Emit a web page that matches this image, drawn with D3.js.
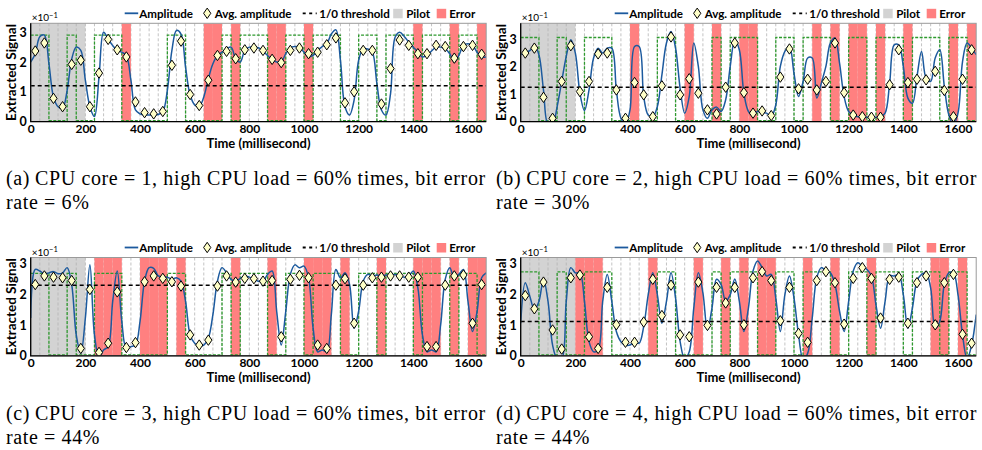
<!DOCTYPE html>
<html>
<head>
<meta charset="utf-8">
<script src="https://cdn.jsdelivr.net/npm/d3@7"></script>
<style>
  body { margin: 0; background: #fff; }
  .ax text { font-family: Lato, "Open Sans", sans-serif; font-weight: 700; font-size: 12px; fill: #000; }
</style>
</head>
<body>
<div id="chart"></div>
<script>
// one bit lasts 1/30 s, 50 bits per trace, first 6 bits are the pilot
var bitMs = 1000 / 30
var nBits = 50
var pilotBits = 6
var xTicks = [0, 200, 400, 600, 800, 1000, 1200, 1400, 1600]
var yTicks = [0, 1, 2, 3]

// transmitted bits (green square wave), same in all four runs
var bits = [1,1,0,0,1,0,0,1,1,1, 0,0,0,0,0,1,1,0,0,0, 0,1,0,1,1,1,0,0,1,1,
            0,1,1,1,0,0,1,1,0,1, 1,1,0,1,1,1,0,1,1,0]

// (a) CPU core = 1
var avgA = [2.37,2.64,0.78,0.5,1.92,2.06,0.5,1.63,2.76,2.41, 2.17,0.66,0.3,0.26,0.34,1.89,2.7,0.91,0.54,1.39,
            2.22,2.36,2.11,2.41,2.47,2.39,2.09,1.98,2.39,2.47, 2.28,2.33,2.58,2.81,0.63,1.0,2.39,2.39,0.59,1.78,
            2.74,2.56,2.28,2.28,2.56,2.52,2.13,2.52,2.56,2.26]
var ampA = [2.0,2.28,2.85,2.9,1.95,0.83,0.5,0.45,1.05,2.1, 2.5,2.39,1.39,0.5,0.17,1.5,3.0,2.78,2.55,2.39,
            2.33,2.22,1.39,0.39,0.26,0.22,0.22,0.22,0.24,0.33, 1.05,2.39,3.06,2.94,1.83,0.89,0.56,0.5,0.83,1.44,
            1.94,2.22,2.33,2.44,2.5,2.11,2.0,2.39,2.5,2.5, 2.48,2.37,2.22,2.08,2.0,2.0,2.28,2.48,2.52,2.5,
            2.33,2.17,2.22,2.39,2.52,2.61,2.94,3.08,2.06,0.5, 0.22,0.72,2.06,2.44,2.44,2.33,1.28,0.39,0.22,0.94,
            2.83,3.0,2.86,2.67,2.5,2.33,2.17,2.22,2.37,2.5, 2.5,2.44,2.28,2.0,2.22,2.56,2.61,2.56,2.33,2.17, 2.17]
var errA = [10,19,20,22,26,27,30,42,46,49]

// (b) CPU core = 2
var avgB = [2.51,2.69,0.89,0.12,1.47,2.78,1.1,1.47,2.48,2.51, 1.16,0.12,1.43,0.98,0.18,1.31,3.1,0.98,1.57,1.04,
            0.43,0.28,1.26,2.88,1.06,0.31,0.39,0.22,1.63,2.66, 1.2,1.55,1.16,1.47,2.88,1.06,0.24,0.18,0.16,0.16,
            1.35,2.63,1.43,1.55,1.53,1.84,1.14,0.18,1.55,2.63]
var ampB = [2.45,2.53,2.6,2.8,2.45,1.16,-0.1,-0.1,0.55,1.47, 2.39,3.0,2.51,1.04,0.4,1.16,2.33,2.69,2.51,2.69,
            2.69,1.16,0.12,-0.1,0.43,2.75,2.75,0.92,0.24,0.18, 0.55,1.71,2.88,3.3,2.69,1.22,0.31,0.92,2.88,2.02,
            0.43,0.12,0.43,0.53,0.37,0.8,2.02,3.0,2.63,1.04, 0.37,0.24,0.37,0.33,0.31,0.18,0.61,2.02,2.57,2.75,
            1.77,0.92,1.47,2.33,2.33,0.86,1.41,2.02,2.88,3.06, 2.14,0.92,0.37,0.24,0.18,0.16,0.16,0.16,0.16,0.18,
            0.31,1.41,2.81,2.81,2.02,0.86,0.67,1.65,2.57,1.59, 1.47,2.33,2.63,1.29,0.24,-0.1,0.31,2.2,2.88,2.69, 2.45]
var errB = [12,18,21,24,25,32,34,36,37,39,42,47,49]

// (c) CPU core = 3
var avgC = [2.32,2.6,2.56,2.54,2.45,0.24,2.16,0.11,0.41,2.08, 0.27,0.43,2.41,2.6,2.52,2.41,2.27,0.68,0.35,0.51,
            2.27,2.6,2.4,2.52,2.51,2.43,2.45,0.62,2.49,2.62, 2.54,0.35,0.24,2.3,2.51,1.06,2.3,2.54,2.56,2.6,
            2.6,2.56,2.56,0.3,0.3,2.3,2.6,2.63,1.06,2.32]
var ampC = [1.23,2.81,2.76,2.67,2.7,2.74,2.67,2.7,2.87,2.32, 0.68,0.08,1.23,2.96,0.68,-0.05,0.19,0.3,1.77,2.76,
            1.12,0.24,0.3,0.35,1.12,2.43,2.87,2.85,2.6,2.56, 2.56,2.49,2.54,2.43,1.77,0.68,0.41,0.33,0.35,0.57,
            1.34,2.43,2.87,2.7,2.49,2.43,2.52,2.6,2.56,2.49, 2.43,2.43,2.65,2.76,1.45,0.35,1.45,2.65,2.96,2.87,
            2.92,2.54,0.9,0.13,0.19,0.13,1.34,2.81,2.54,2.7, 2.32,0.9,1.45,2.43,2.65,2.6,2.63,2.6,2.63,2.63,
            2.65,2.6,2.56,2.6,2.76,2.21,0.68,0.13,0.19,0.13, 1.01,2.49,2.87,2.54,2.65,2.81,1.77,0.79,1.45,2.54, 2.7]
var errC = [7,8,9,12,13,14,16,22,26,30,31,32,34,38,42,43,44,46,48,49]

// (d) CPU core = 4
var avgD = [1.96,1.53,2.4,0.84,0.22,2.54,2.63,0.62,0.24,2.23, 1.01,0.44,0.44,1.1,2.49,1.31,2.3,0.68,0.62,2.4,
            0.99,2.23,1.72,2.23,1.01,2.54,2.74,2.45,1.14,2.23, 0.73,0.44,2.45,2.74,2.38,1.03,2.52,2.87,2.52,1.23,
            2.49,2.56,1.06,2.38,2.6,1.01,2.38,2.65,0.7,0.41]
var ampD = [1.06,2.38,1.94,1.5,1.77,2.49,1.77,0.35,-0.1,-0.1, 1.77,2.87,2.7,2.7,1.77,0.46,0.13,0.19,1.77,2.65,
            1.77,0.79,0.46,0.35,0.35,0.46,0.41,0.95,1.99,2.7, 1.99,1.06,1.77,2.7,1.88,0.46,-0.1,0.13,1.56,2.7,
            2.05,0.84,1.56,2.49,2.32,1.77,1.99,2.5,1.77,0.79, 1.56,2.76,3.09,2.87,2.6,2.65,1.88,0.79,1.99,2.6,
            1.88,0.68,-0.1,0.08,1.23,2.54,2.87,2.76,2.7,2.32, 1.45,0.79,1.77,2.76,3.03,2.92,2.81,2.6,1.66,0.9,
            1.77,2.6,2.6,2.65,1.99,0.9,1.56,2.43,2.65,2.7, 2.21,0.9,1.12,2.32,2.7,2.7,1.99,0.68,-0.1,0.35, 1.34]
var errD = [6,7,8,14,19,22,24,26,27,31,34,38,45,46,48]

var thresholds = [1.2, 1.26, 2.3, 1.12]
var highLevels = [2.9, 3.08, 2.68, 2.73]
var yMax = [3.3, 3.6, 3.2, 3.2]
var cores = ["1", "2", "3", "4"]
var errorRates = ["6%", "30%", "44%", "44%"]

// layout
var plotW = 455.5, plotH = 98.3
var panels = [
  {key: "a", left: 30.7,  top: 23.3,  avg: avgA, amp: ampA, err: errA},
  {key: "b", left: 520.7, top: 23.3,  avg: avgB, amp: ampB, err: errB},
  {key: "c", left: 30.7,  top: 257.5, avg: avgC, amp: ampC, err: errC},
  {key: "d", left: 520.7, top: 257.5, avg: avgD, amp: ampD, err: errD}
]

var sans = "Lato, 'Open Sans', sans-serif"
var serif = "'Liberation Serif', 'DejaVu Serif', serif"
var blue = "#1c5a9e", red = "#ff8080", gray = "#d3d3d3", green = "#2e9a2e", diamondFill = "#ffffc8"
var diamond = "M0,-5.2L3.6,0L0,5.2L-3.6,0Z"

var svg = d3.select("#chart").append("svg")
    .attr("width", 982)
    .attr("height", 450)

panels.forEach(function(p, pi) {
  var g = svg.append("g").attr("transform", "translate(" + p.left + "," + p.top + ")")

  var x = d3.scaleLinear().domain([0, nBits * bitMs]).range([0, plotW])
  var y = d3.scaleLinear().domain([0, yMax[pi]]).range([plotH, 0])

  g.append("clipPath").attr("id", "clip-" + p.key)
    .append("rect").attr("width", plotW).attr("height", plotH)
  var body = g.append("g").attr("clip-path", "url(#clip-" + p.key + ")")

  // pilot band
  body.append("rect")
    .attr("x", x(0)).attr("y", 0)
    .attr("width", x(pilotBits * bitMs) - x(0)).attr("height", plotH)
    .attr("fill", gray)

  // bit boundaries
  body.selectAll(".grid")
    .data(d3.range(1, nBits))
    .enter().append("line")
      .attr("x1", function(d) { return x(d * bitMs) })
      .attr("x2", function(d) { return x(d * bitMs) })
      .attr("y1", 0).attr("y2", plotH)
      .attr("stroke", "#b4b4b4").attr("stroke-width", 0.8)
      .attr("stroke-dasharray", "3,2")

  // wrongly decoded bits
  body.selectAll(".err")
    .data(p.err)
    .enter().append("rect")
      .attr("x", function(d) { return x(d * bitMs) })
      .attr("width", x(bitMs) - x(0))
      .attr("y", 0).attr("height", plotH)
      .attr("fill", red)

  // transmitted bits
  var stepPts = bits.map(function(b, i) { return [i * bitMs, b] })
  stepPts.push([nBits * bitMs, bits[nBits - 1]])
  body.append("path")
    .datum(stepPts)
    .attr("fill", "none")
    .attr("stroke", green).attr("stroke-width", 1.3)
    .attr("stroke-dasharray", "3,1.5")
    .attr("d", d3.line()
      .x(function(d) { return x(d[0]) })
      .y(function(d) { return y(d[1] * highLevels[pi]) + (d[1] ? 0 : -1) })
      .curve(d3.curveStepAfter))

  // amplitude
  body.append("path")
    .datum(p.amp)
    .attr("fill", "none")
    .attr("stroke", blue).attr("stroke-width", 1.5)
    .attr("d", d3.line()
      .x(function(d, i) { return x(i * bitMs / 2) })
      .y(function(d) { return y(d) })
      .curve(d3.curveCatmullRom.alpha(0.5)))

  // 1/0 threshold
  body.append("line")
    .attr("x1", 0).attr("x2", plotW)
    .attr("y1", y(thresholds[pi])).attr("y2", y(thresholds[pi]))
    .attr("stroke", "#000").attr("stroke-width", 1.5)
    .attr("stroke-dasharray", "4,3")

  // averaged amplitude per bit
  body.selectAll(".avg")
    .data(p.avg)
    .enter().append("path")
      .attr("d", diamond)
      .attr("transform", function(d, i) { return "translate(" + x((i + 0.5) * bitMs) + "," + y(d) + ")" })
      .attr("fill", diamondFill).attr("stroke", "#000").attr("stroke-width", 1)

  // frame
  g.append("rect")
    .attr("width", plotW).attr("height", plotH)
    .attr("fill", "none").attr("stroke", "#9a9a9a").attr("stroke-width", 1)
  g.append("path")
    .attr("d", "M0,0V" + plotH + "H" + plotW)
    .attr("fill", "none").attr("stroke", "#000").attr("stroke-width", 1.3)

  // axes
  var xa = g.append("g").attr("class", "ax")
    .attr("transform", "translate(0," + plotH + ")")
    .call(d3.axisBottom(x).tickValues(xTicks).tickSize(0).tickPadding(3).tickFormat(d3.format("d")))
  xa.select(".domain").remove()

  var ya = g.append("g").attr("class", "ax")
    .call(d3.axisLeft(y).tickValues(yTicks).tickSize(0).tickPadding(4).tickFormat(d3.format("d")))
  ya.select(".domain").remove()
  ya.selectAll("text").style("font-size", "12.5px")

  var sci = g.append("text")
    .attr("x", 1).attr("y", -2)
    .style("font-family", sans).style("font-size", "10px")
    .text("×10")
  sci.append("tspan").attr("dy", -3.5).style("font-size", "7.5px").text("−1")

  g.append("text")
    .attr("transform", "translate(-14.5," + plotH / 2 + ") rotate(-90)")
    .attr("text-anchor", "middle")
    .style("font-family", sans).style("font-weight", 700).style("font-size", "13.5px")
    .text("Extracted Signal")

  g.append("text")
    .attr("x", plotW / 2).attr("y", plotH + 26.5)
    .attr("text-anchor", "middle")
    .style("font-family", sans).style("font-weight", 700).style("font-size", "13px")
    .text("Time (millisecond)")

  // legend
  var lg = g.append("g").attr("transform", "translate(0,-10)")
  var lt = function(xx, s) {
    lg.append("text").attr("x", xx).attr("y", 4.3)
      .style("font-family", sans).style("font-weight", 700).style("font-size", "11.6px")
      .text(s)
  }
  lg.append("line").attr("x1", 94).attr("x2", 107.5).attr("stroke", blue).attr("stroke-width", 1.8)
  lt(108.5, "Amplitude")
  lg.append("path").attr("d", diamond).attr("transform", "translate(176.5,0)")
    .attr("fill", diamondFill).attr("stroke", "#000")
  lt(184, "Avg. amplitude")
  lg.append("line").attr("x1", 272).attr("x2", 286).attr("stroke", "#000")
    .attr("stroke-width", 1.8).attr("stroke-dasharray", "3,3.5")
  lt(288.5, "1/0 threshold")
  lg.append("rect").attr("x", 362.5).attr("y", -4.5).attr("width", 9.5).attr("height", 9.5).attr("fill", gray)
  lt(375.5, "Pilot")
  lg.append("rect").attr("x", 406).attr("y", -4.5).attr("width", 9.5).attr("height", 9.5).attr("fill", red)
  lt(418.5, "Error")

  // caption
  var cx = p.left - 24.7, cy = p.top + 162
  var c1 = svg.append("text")
    .attr("x", cx).attr("y", cy)
    .style("font-family", serif).style("font-size", "20px").style("letter-spacing", "0.62px")
  c1.append("tspan").text("(" + p.key + ")")
  c1.append("tspan").attr("dx", 5)
    .text("CPU core = " + cores[pi] + ", high CPU load = 60% times, bit error")
  svg.append("text")
    .attr("x", cx).attr("y", cy + 24)
    .style("font-family", serif).style("font-size", "20px").style("letter-spacing", "0.62px")
    .text("rate = " + errorRates[pi])
})
</script>
</body>
</html>
